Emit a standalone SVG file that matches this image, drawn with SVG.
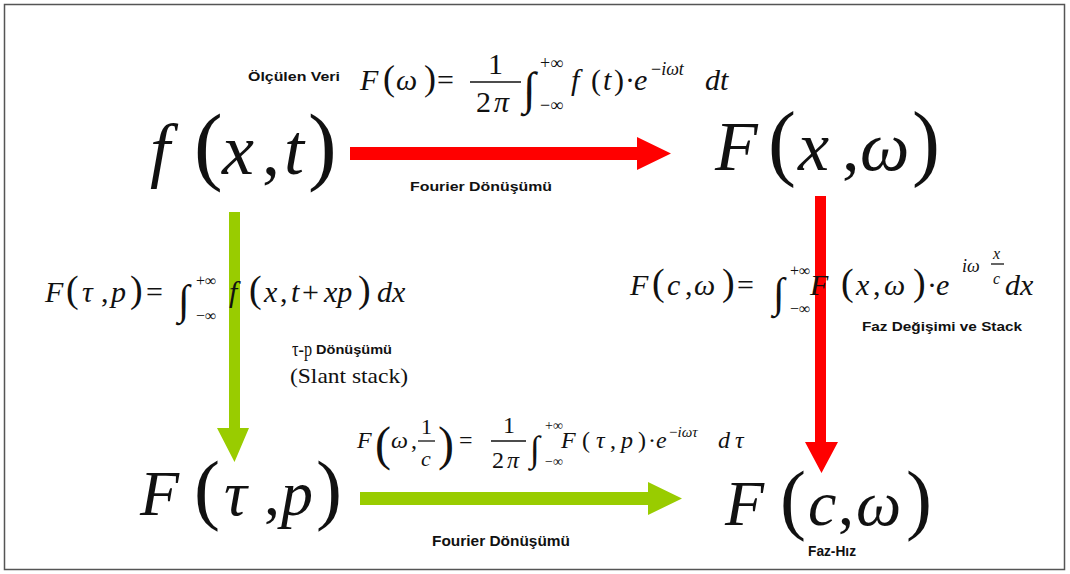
<svg xmlns="http://www.w3.org/2000/svg" width="1070" height="574" viewBox="0 0 1070 574">
<style>
.m{font-family:"Liberation Serif","Times New Roman",serif;fill:#111}
.i{font-style:italic}
.lb{font-family:"Liberation Sans",Arial,sans-serif;font-weight:bold;font-size:13px;fill:#111}
.nb{font-family:"Liberation Sans",Arial,sans-serif;font-weight:bold;font-size:15px;fill:#111}
.red{fill:#ff0000}
.grn{fill:#99cc00}
.bar{stroke:#111;stroke-width:1.3}
</style>
<rect x="4.5" y="4.5" width="1060" height="565" fill="#fff" stroke="#555" stroke-width="1.5"/>
<g id="connectors">
<polygon id="e1" class="red" points="350,147 637,147 637,137 671,153.5 637,170 637,160 350,160"/>
<polygon id="e2" class="red" points="815,196 826,196 826,442 838,442 821.5,473 805,442 815,442"/>
<polygon id="e3" class="grn" points="229,212 240,212 240,428 249,428 234.5,462 217,428 229,428"/>
<polygon id="e4" class="grn" points="360,492 648,492 648,482 682,498.5 648,515 648,505 360,505"/>
</g>
<g id="n1">
<text class="m" y="174" font-size="72"><tspan x="150" class="i">f</tspan><tspan x="194" font-size="86">(</tspan><tspan x="222" class="i">x</tspan><tspan x="262">,</tspan><tspan x="284" class="i">t</tspan><tspan x="308" font-size="86">)</tspan></text>
</g>
<g id="n2">
<text class="m" y="170" font-size="70"><tspan x="715" class="i">F</tspan><tspan x="768" font-size="84">(</tspan><tspan x="798" class="i">x</tspan><tspan x="842">,</tspan><tspan x="860" class="i">ω</tspan><tspan x="912" font-size="84">)</tspan></text>
</g>
<g id="n3">
<text class="m" y="515" font-size="64"><tspan x="140" class="i">F</tspan><tspan x="194" font-size="78">(</tspan><tspan x="224" class="i">τ</tspan><tspan x="264">,</tspan><tspan x="281" class="i">p</tspan><tspan x="316" font-size="78">)</tspan></text>
</g>
<g id="n4">
<text class="m" y="525" font-size="64"><tspan x="725" class="i">F</tspan><tspan x="780" font-size="78">(</tspan><tspan x="808" class="i">c</tspan><tspan x="838">,</tspan><tspan x="856" class="i">ω</tspan><tspan x="906" font-size="78">)</tspan></text>
</g>
<g id="label-top">
<text class="lb" x="248" y="81" textLength="92" lengthAdjust="spacingAndGlyphs">Ölçülen Veri</text>
<text class="m" y="90" font-size="30"><tspan x="360" class="i">F</tspan><tspan x="383" font-size="36">(</tspan><tspan x="396" class="i">ω</tspan><tspan x="424" font-size="36">)</tspan><tspan x="437">=</tspan></text>
<text class="m" x="488" y="74" font-size="30">1</text>
<line class="bar" x1="470" y1="82" x2="521" y2="82"/>
<text class="m" y="112" font-size="30"><tspan x="476">2</tspan><tspan x="494" class="i">π</tspan></text>
<text class="m" x="523" y="104" font-size="46">∫</text>
<text class="m" x="540" y="69" font-size="18">+∞</text>
<text class="m" x="540" y="111" font-size="18">−∞</text>
<text class="m" y="90" font-size="30"><tspan x="571" class="i">f</tspan><tspan x="591">(</tspan><tspan x="603" class="i">t</tspan><tspan x="614">)</tspan><tspan x="625">·</tspan><tspan x="634" class="i">e</tspan><tspan x="705" class="i">dt</tspan></text>
<text class="m" x="651" y="75" font-size="18"><tspan>−</tspan><tspan class="i">iωt</tspan></text>
<text class="lb" x="410" y="191" textLength="142" lengthAdjust="spacingAndGlyphs">Fourier Dönüşümü</text>
</g>
<g id="label-left">
<text class="m" y="302" font-size="30"><tspan x="45" class="i">F</tspan><tspan x="66" font-size="38">(</tspan><tspan x="82" class="i">τ</tspan><tspan x="101">,</tspan><tspan x="111" class="i">p</tspan><tspan x="130" font-size="38">)</tspan><tspan x="146">=</tspan></text>
<text class="m" x="178" y="314" font-size="42">∫</text>
<text class="m" x="196" y="286" font-size="16">+∞</text>
<text class="m" x="196" y="321" font-size="16">−∞</text>
<text class="m" y="302" font-size="30"><tspan x="229" class="i">f</tspan><tspan x="249" font-size="38">(</tspan><tspan x="264" class="i">x</tspan><tspan x="280">,</tspan><tspan x="291" class="i">t</tspan><tspan x="302">+</tspan><tspan x="324" class="i">xp</tspan><tspan x="358" font-size="38">)</tspan><tspan x="377" class="i">dx</tspan></text>
<text class="m" x="292" y="356" font-size="20" textLength="20" lengthAdjust="spacingAndGlyphs">τ-p</text>
<text class="lb" x="316" y="354" font-size="12" textLength="76" lengthAdjust="spacingAndGlyphs">Dönüşümü</text>
<text class="m" x="290" y="383" font-size="22" textLength="118" lengthAdjust="spacingAndGlyphs">(Slant stack)</text>
</g>
<g id="label-right">
<text class="m" y="295" font-size="30"><tspan x="630" class="i">F</tspan><tspan x="652" font-size="38">(</tspan><tspan x="667" class="i">c</tspan><tspan x="685">,</tspan><tspan x="694" class="i">ω</tspan><tspan x="722" font-size="38">)</tspan><tspan x="737">=</tspan></text>
<text class="m" x="773" y="307" font-size="42">∫</text>
<text class="m" x="790" y="276" font-size="16">+∞</text>
<text class="m" x="790" y="314" font-size="16">−∞</text>
<text class="m" y="295" font-size="30"><tspan x="810" class="i">F</tspan><tspan x="841" font-size="38">(</tspan><tspan x="856" class="i">x</tspan><tspan x="873">,</tspan><tspan x="884" class="i">ω</tspan><tspan x="913" font-size="38">)</tspan><tspan x="927">·</tspan><tspan x="936" class="i">e</tspan><tspan x="1005" class="i">dx</tspan></text>
<text class="m i" x="962" y="272" font-size="18">iω</text>
<text class="m i" x="993" y="259" font-size="16">x</text>
<line class="bar" x1="991" y1="264" x2="1004" y2="264" stroke-width="1"/>
<text class="m i" x="993" y="284" font-size="16">c</text>
<text class="lb" x="862" y="331" textLength="160" lengthAdjust="spacingAndGlyphs">Faz Değişimi ve Stack</text>
</g>
<g id="label-bottom">
<text class="m" y="448" font-size="24"><tspan x="357" class="i">F</tspan></text>
<text class="m" x="375" y="460" font-size="48">(</text>
<text class="m" y="448" font-size="24"><tspan x="391" class="i">ω</tspan><tspan x="411">,</tspan></text>
<text class="m" x="421" y="434" font-size="22">1</text>
<line class="bar" x1="418" y1="441" x2="435" y2="441" stroke-width="1"/>
<text class="m i" x="421" y="466" font-size="22">c</text>
<text class="m" x="438" y="460" font-size="48">)</text>
<text class="m" x="459" y="448" font-size="24">=</text>
<text class="m" x="503" y="433" font-size="24">1</text>
<line class="bar" x1="491" y1="441" x2="526" y2="441" stroke-width="1.1"/>
<text class="m" y="468" font-size="24"><tspan x="492">2</tspan><tspan x="507" class="i">π</tspan></text>
<text class="m" x="530" y="461" font-size="36">∫</text>
<text class="m" x="545" y="430" font-size="14">+∞</text>
<text class="m" x="545" y="466" font-size="14">−∞</text>
<text class="m" y="448" font-size="24"><tspan x="561" class="i">F</tspan><tspan x="582">(</tspan><tspan x="596" class="i">τ</tspan><tspan x="610">,</tspan><tspan x="621" class="i">p</tspan><tspan x="638">)</tspan><tspan x="648">·</tspan><tspan x="656" class="i">e</tspan><tspan x="718" class="i">d</tspan><tspan x="735" class="i">τ</tspan></text>
<text class="m" x="669" y="437" font-size="15"><tspan>−</tspan><tspan class="i">iωτ</tspan></text>
<text class="nb" x="432" y="546" textLength="138" lengthAdjust="spacingAndGlyphs">Fourier Dönüşümü</text>
<text class="nb" x="808" y="556" textLength="48" lengthAdjust="spacingAndGlyphs">Faz-Hız</text>
</g>
</svg>
